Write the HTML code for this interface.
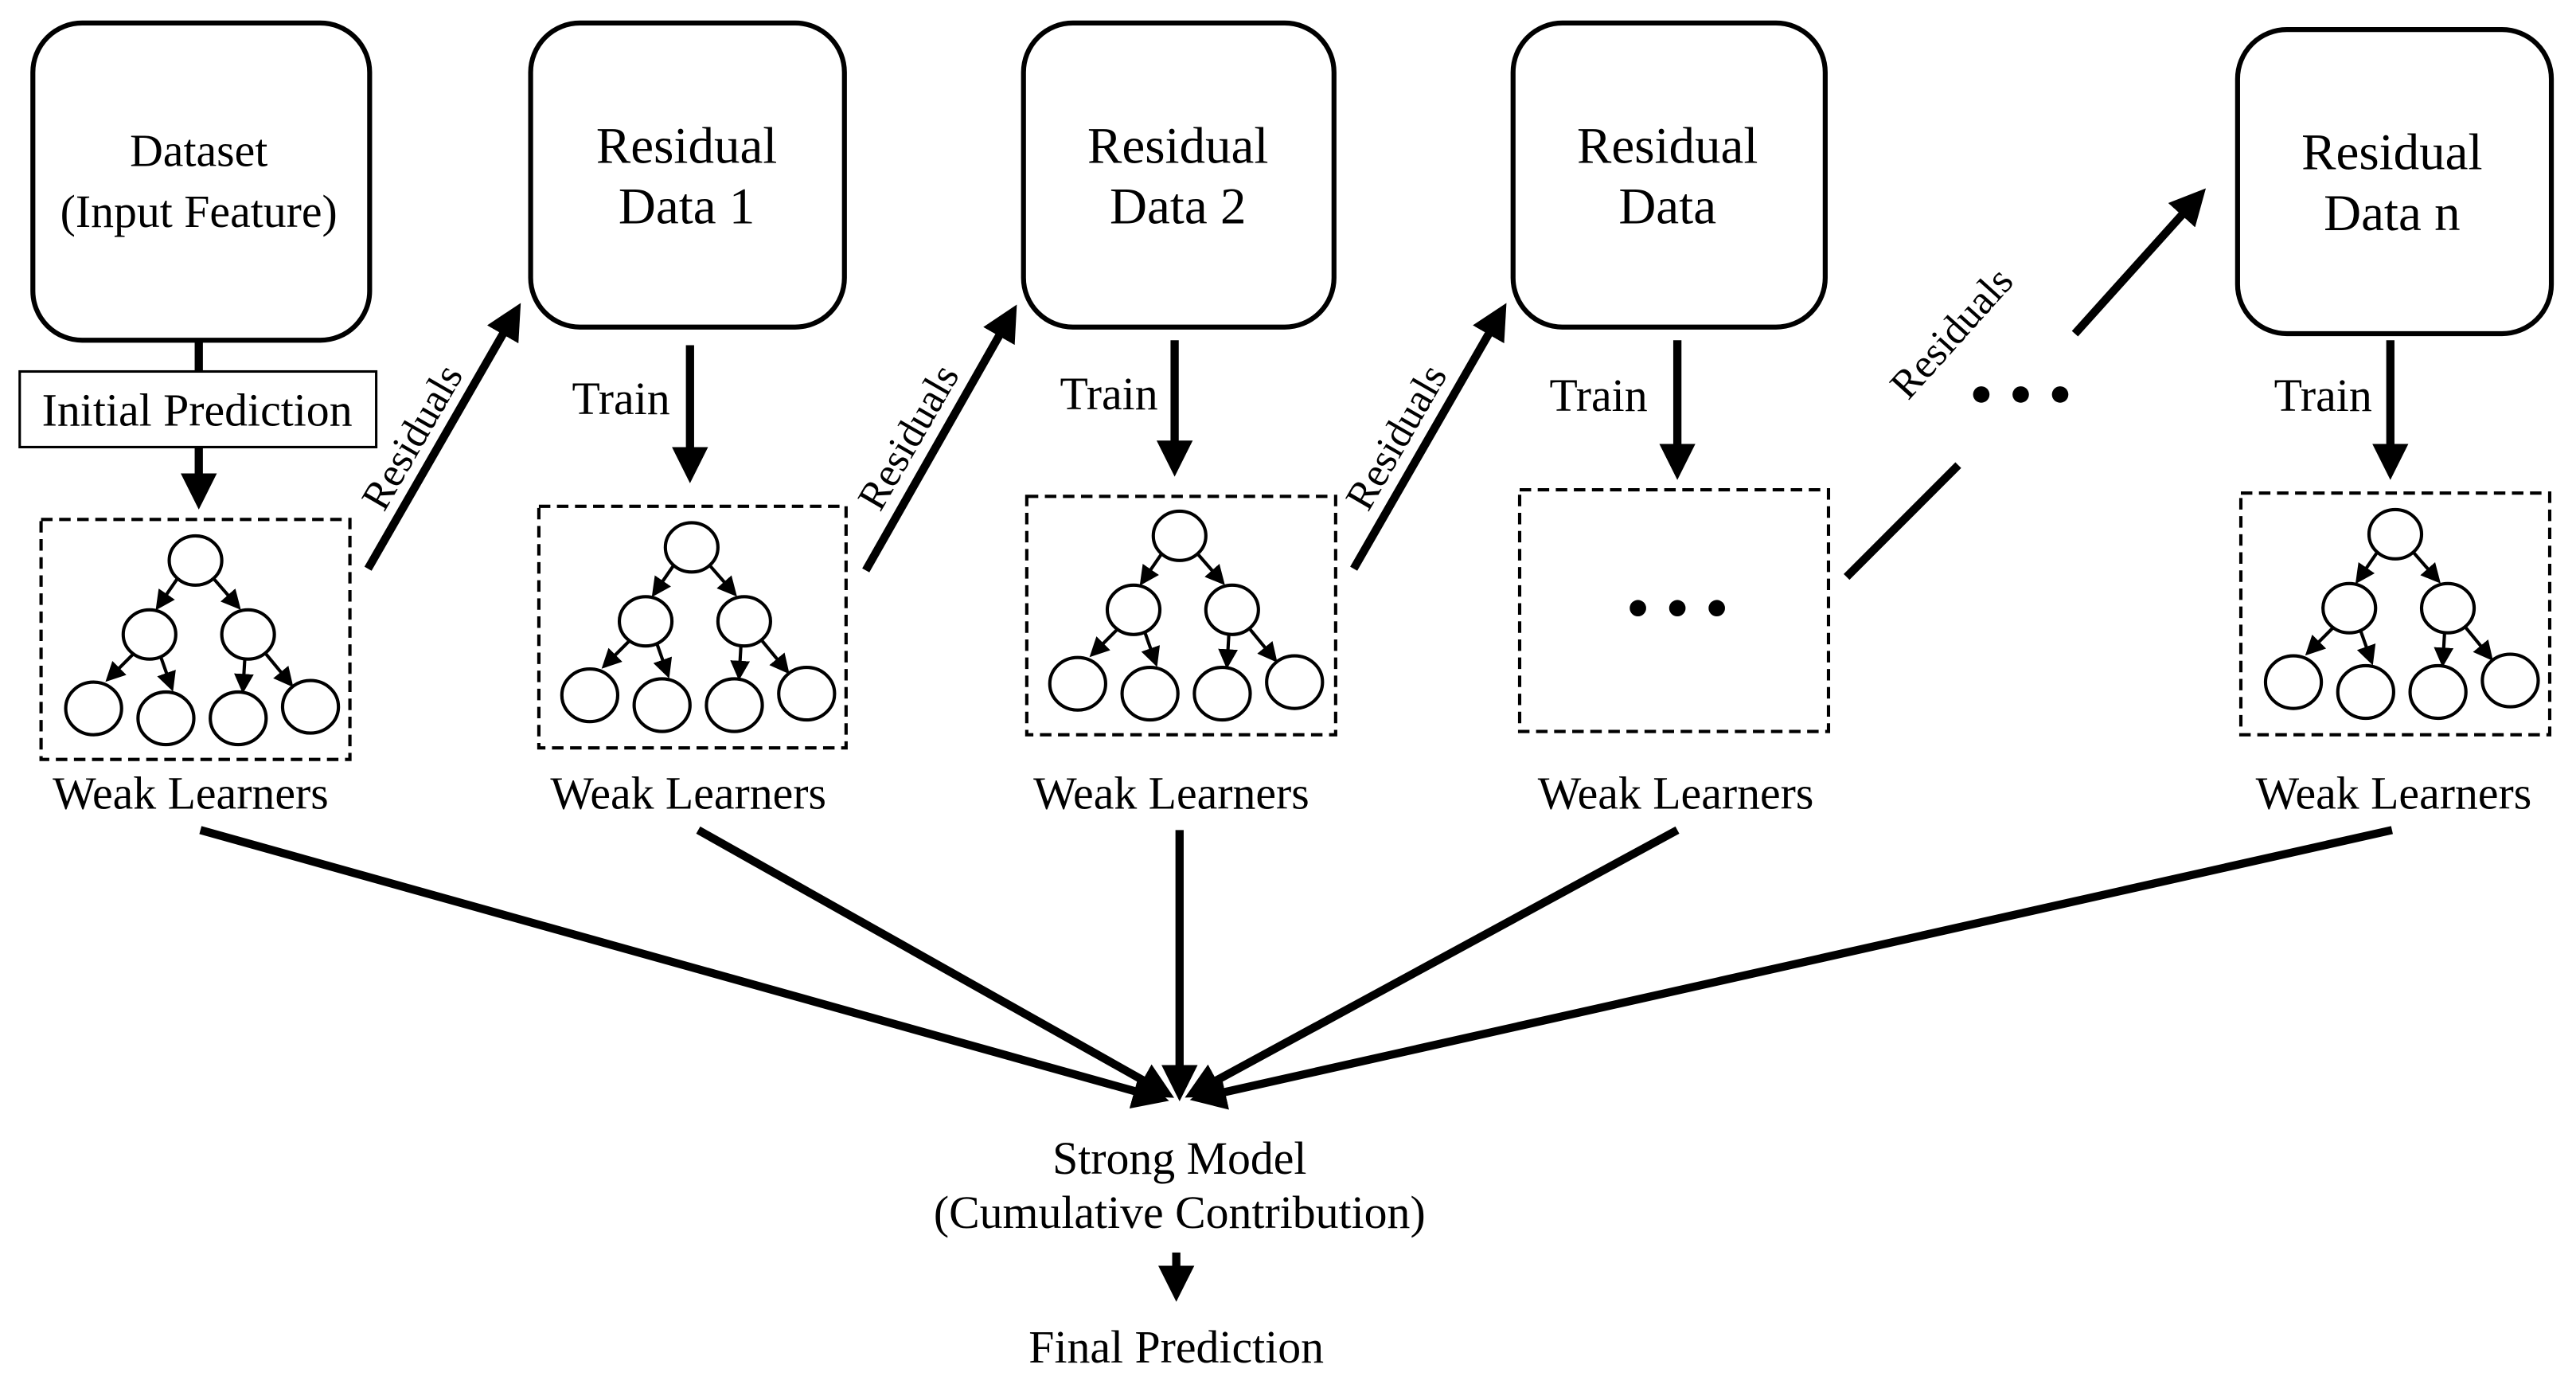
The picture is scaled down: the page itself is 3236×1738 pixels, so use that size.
<!DOCTYPE html>
<html><head><meta charset="utf-8"><style>
html,body{margin:0;padding:0;background:#fff;}
svg{display:block;}
text{font-family:"Liberation Serif",serif;fill:#000;}
</style></head><body>
<svg width="3236" height="1738" viewBox="0 0 1568 842" preserveAspectRatio="none" xmlns="http://www.w3.org/2000/svg">
<defs>
<marker id="ah" markerWidth="4.4" markerHeight="4.4" refX="2.4" refY="2.2" orient="auto" markerUnits="strokeWidth"><path d="M0,0 L4.4,2.2 L0,4.4 z" fill="#000"/></marker>
<marker id="sa" markerWidth="6" markerHeight="6" refX="4" refY="3" orient="auto" markerUnits="strokeWidth"><path d="M0,0 L6,3 L0,6 z" fill="#000"/></marker>
<g id="tree" fill="none" stroke="#000" stroke-width="2">
<ellipse cx="0" cy="0" rx="16" ry="15"/>
<ellipse cx="-28" cy="45" rx="16" ry="15"/>
<ellipse cx="32" cy="45" rx="16" ry="15"/>
<ellipse cx="-62" cy="90" rx="17" ry="16"/>
<ellipse cx="-18" cy="96" rx="17" ry="16"/>
<ellipse cx="26" cy="96" rx="17" ry="16"/>
<ellipse cx="70" cy="89" rx="17" ry="16"/>
<line x1="-11" y1="11" x2="-22" y2="27" marker-end="url(#sa)"/>
<line x1="11" y1="11" x2="25" y2="27" marker-end="url(#sa)"/>
<line x1="-38" y1="57" x2="-52" y2="71" marker-end="url(#sa)"/>
<line x1="-21" y1="59" x2="-15" y2="76" marker-end="url(#sa)"/>
<line x1="30" y1="60" x2="29" y2="77" marker-end="url(#sa)"/>
<line x1="43" y1="57" x2="57" y2="74" marker-end="url(#sa)"/>
</g>
</defs>
<g fill="none" stroke="#000" stroke-width="3">
<rect x="20" y="14" width="205" height="193" rx="30"/>
<rect x="323" y="14" width="191" height="185" rx="30"/>
<rect x="623" y="14" width="189" height="185" rx="30"/>
<rect x="921" y="14" width="190" height="185" rx="30"/>
<rect x="1362" y="18" width="191" height="185" rx="30"/>
</g>
<rect x="12" y="226" width="217" height="46" fill="none" stroke="#000" stroke-width="1.5"/>
<g fill="none" stroke="#000" stroke-width="2" stroke-dasharray="7,4">
<rect x="25" y="316" width="188" height="146"/>
<rect x="328" y="308" width="187" height="147"/>
<rect x="625" y="302" width="188" height="145"/>
<rect x="925" y="298" width="188" height="147"/>
<rect x="1364" y="300" width="188" height="147"/>
</g>
<use href="#tree" x="119" y="341"/>
<use href="#tree" x="421" y="333"/>
<use href="#tree" x="718" y="326"/>
<use href="#tree" x="1458" y="325"/>
<g fill="#000"><circle cx="997" cy="370" r="5"/><circle cx="1021" cy="370" r="5"/><circle cx="1045" cy="370" r="5"/>
<circle cx="1206" cy="240" r="5"/><circle cx="1230" cy="240" r="5"/><circle cx="1254" cy="240" r="5"/></g>
<g stroke="#000" stroke-width="5" fill="none">
<line x1="121" y1="207" x2="121" y2="226"/>
<line x1="121" y1="272" x2="121" y2="300" marker-end="url(#ah)"/>
<line x1="420" y1="210" x2="420" y2="284" marker-end="url(#ah)"/>
<line x1="715" y1="207" x2="715" y2="280" marker-end="url(#ah)"/>
<line x1="1021" y1="207" x2="1021" y2="282" marker-end="url(#ah)"/>
<line x1="1455" y1="207" x2="1455" y2="282" marker-end="url(#ah)"/>
<line x1="224" y1="346" x2="312" y2="193" marker-end="url(#ah)"/>
<line x1="527" y1="347" x2="614" y2="194" marker-end="url(#ah)"/>
<line x1="824" y1="346" x2="912" y2="193" marker-end="url(#ah)"/>
<line x1="1124" y1="351" x2="1192" y2="283"/>
<line x1="1263" y1="203" x2="1336" y2="122" marker-end="url(#ah)"/>
<line x1="122" y1="505" x2="702" y2="667" marker-end="url(#ah)"/>
<line x1="425" y1="505" x2="706" y2="663" marker-end="url(#ah)"/>
<line x1="718" y1="505" x2="718" y2="660" marker-end="url(#ah)"/>
<line x1="1021" y1="505" x2="730" y2="663" marker-end="url(#ah)"/>
<line x1="1456" y1="505" x2="734" y2="667" marker-end="url(#ah)"/>
<line x1="716" y1="762" x2="716" y2="782" marker-end="url(#ah)"/>
</g>
<g text-anchor="middle">
<text x="121" y="101" font-size="28">Dataset</text>
<text x="121" y="138" font-size="28">(Input Feature)</text>
<text x="120" y="259" font-size="28">Initial Prediction</text>
<text x="418" y="99" font-size="31.5">Residual</text>
<text x="418" y="136" font-size="31.5">Data 1</text>
<text x="717" y="99" font-size="31.5">Residual</text>
<text x="717" y="136" font-size="31.5">Data 2</text>
<text x="1015" y="99" font-size="31.5">Residual</text>
<text x="1015" y="136" font-size="31.5">Data</text>
<text x="1456" y="103" font-size="31.5">Residual</text>
<text x="1456" y="140" font-size="31.5">Data n</text>
<text x="378" y="252" font-size="28">Train</text>
<text x="675" y="249" font-size="28">Train</text>
<text x="973" y="250" font-size="28">Train</text>
<text x="1414" y="250" font-size="28">Train</text>
<text x="116" y="492" font-size="28">Weak Learners</text>
<text x="419" y="492" font-size="28">Weak Learners</text>
<text x="713" y="492" font-size="28">Weak Learners</text>
<text x="1020" y="492" font-size="28">Weak Learners</text>
<text x="1457" y="492" font-size="28">Weak Learners</text>
<text x="718" y="714" font-size="28">Strong Model</text>
<text x="718" y="747" font-size="28">(Cumulative Contribution)</text>
<text x="716" y="829" font-size="28">Final Prediction</text>
<text font-size="25" transform="translate(258,270) rotate(-60)">Residuals</text>
<text font-size="25" transform="translate(560,270) rotate(-60)">Residuals</text>
<text font-size="25" transform="translate(857,270) rotate(-60)">Residuals</text>
<text font-size="25" transform="translate(1194,208) rotate(-48)">Residuals</text>
</g>
</svg>
</body></html>
